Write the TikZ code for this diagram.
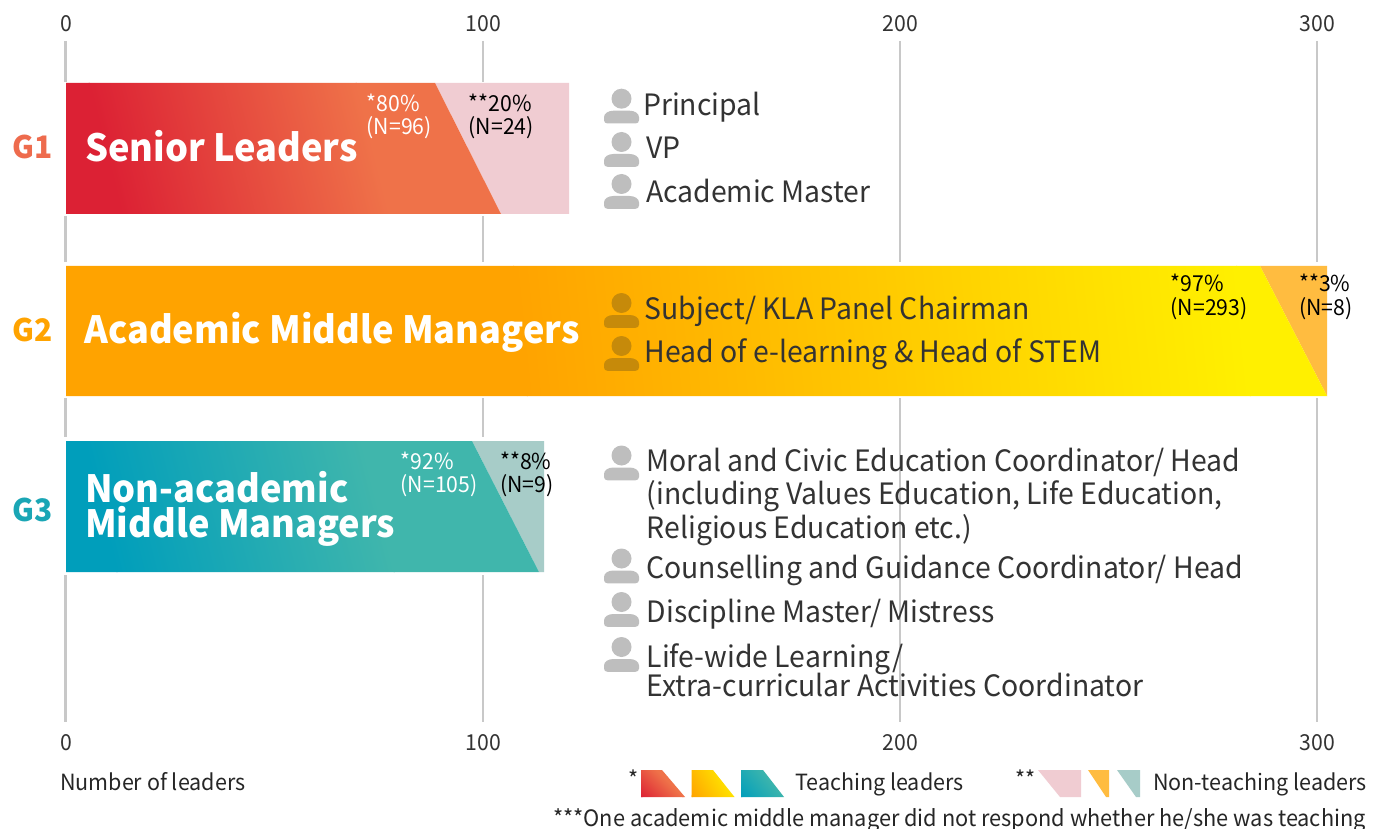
\documentclass[tikz,border=0pt]{standalone}
\usepackage{fontspec}
\setmainfont[FakeStretch=0.965]{Noto Sans CJK SC}
\definecolor{redA}{HTML}{DC2134}
\definecolor{redB}{HTML}{EF7249}
\definecolor{pinkN}{HTML}{F0CCD2}
\definecolor{ambA}{HTML}{FFA300}
\definecolor{ambB}{HTML}{FFF000}
\definecolor{ambN}{HTML}{FFBC40}
\definecolor{tealA}{HTML}{009EBB}
\definecolor{tealB}{HTML}{40B6AC}
\definecolor{tealN}{HTML}{A7CCC8}
\definecolor{gridc}{HTML}{C8C8C8}
\definecolor{iconc}{HTML}{BEBEBE}
\definecolor{icond}{HTML}{C68A0A}
\definecolor{txt}{HTML}{333333}
\definecolor{gOne}{HTML}{EE6B4D}
\definecolor{gThree}{HTML}{1AA6B5}
\newcommand{\fsz}[1]{\fontsize{#1pt}{#1pt}\selectfont}
% #1 polygon path, #2 #3 colours, #4 #5 gradient extent, #6 centre y, #7 angle
\newcommand{\gradpoly}[7]{%
  \begin{scope}
    \clip #1;
    \fill[#2,transform canvas={rotate around={#7:(#4,#6)}}] (#4-900,#6-900) rectangle (#4+1,#6+900);
    \fill[#3,transform canvas={rotate around={#7:(#4,#6)}}] (#5-1,#6-900) rectangle (#5+900,#6+900);
    \shade[left color=#2,right color=#3,transform canvas={rotate around={#7:(#4,#6)}}] (#4,#6-900) rectangle (#5,#6+900);
  \end{scope}}
\tikzset{
  x=1pt,y=-1pt,
  axisline/.style={draw=gridc,line width=1.4pt},
  zeroline/.style={draw=gridc,line width=2.4pt},
  axisnum/.style={font=\fsz{22},text=txt,anchor=base,inner sep=0pt},
  role/.style={font=\fsz{29.4},text=txt,anchor=base west,inner sep=0pt},
  pct/.style={font=\fsz{22},anchor=base west,inner sep=0pt},
  glabel/.style={font=\fsz{31}\bfseries,anchor=base west,inner sep=0pt},
  title/.style={font=\fsz{37.5}\bfseries,text=white,anchor=base west,inner sep=0pt},
  note/.style={font=\fsz{22.3},text=black!85,inner sep=0pt},
  person/.pic={
    \fill[pic actions] (0,0) circle[radius=10];
    \fill[pic actions] (-17.5,18.5) .. controls (-17.5,14.5) and (-13,12) .. (-8,12) -- (8,12) .. controls (13,12) and (17.5,14.5) .. (17.5,18.5) -- (17.5,21.5) .. controls (17.5,23.5) and (16,24.8) .. (14,24.8) -- (-14,24.8) .. controls (-16,24.8) and (-17.5,23.5) .. (-17.5,21.5) -- cycle;
  }
}
\begin{document}
\begin{tikzpicture}
\useasboundingbox (0,0) rectangle (1382,829);
\fill[white] (0,0) rectangle (1382,829);
% axis lines
\draw[zeroline] (65.5,41) -- (65.5,82) (65.5,216) -- (65.5,262) (65.5,398) -- (65.5,437) (65.5,575) -- (65.5,722);
\draw[axisline] (483,41) -- (483,82) (483,216) -- (483,262) (483,398) -- (483,437) (483,575) -- (483,722);
\draw[axisline] (900,41) -- (900,262) (900,398) -- (900,722);
\draw[axisline] (1317,41) -- (1317,262) (1317,398) -- (1317,722);
% axis numbers
\node[axisnum] (t0) at (66,32) {0};
\node[axisnum] (t1) at (483.5,32) {100};
\node[axisnum] (t2) at (900.5,32) {200};
\node[axisnum] (t3) at (1317.5,32) {300};
\node[axisnum] (b0) at (66,750) {0};
\node[axisnum] (b1) at (483.5,750) {100};
\node[axisnum] (b2) at (900.5,750) {200};
\node[axisnum] (b3) at (1317.5,750) {300};
% bars
\fill[pinkN] (435,83) -- (569,83) -- (569,214) -- (501,214) -- cycle;
\gradpoly{(66,83) -- (435,83) -- (501,214) -- (66,214) -- cycle}{redA}{redB}{105}{365}{148}{14}
\fill[ambN] (1260,266) -- (1327,266) -- (1327,396) -- cycle;
\gradpoly{(66,266) -- (1260,266) -- (1327,396) -- (66,396) -- cycle}{ambA}{ambB}{520}{1240}{331}{6}
\fill[tealN] (472,441) -- (544,441) -- (544,572) -- (539,572) -- cycle;
\gradpoly{(66,441) -- (472,441) -- (539,572) -- (66,572) -- cycle}{tealA}{tealB}{100}{370}{506}{14}
% group labels
\node[glabel,text=gOne] (g1) at (12,159) {G1};
\node[glabel,text=ambA] (g2) at (12,341) {G2};
\node[glabel,text=gThree] (g3) at (12,521) {G3};
\node[title] (n1) at (85,162) {Senior Leaders};
\node[title] (n2) at (84,343.5) {Academic Middle Managers};
\node[title] (n3a) at (85,502) {Non-academic};
\node[title] (n3b) at (85,537) {Middle Managers};
% percentages
\node[pct,text=white] (p1a) at (366.5,112) {*80\%};
\node[pct,text=white] (p1b) at (366.5,135) {(N=96)};
\node[pct,text=black] (p2a) at (468.5,112) {**20\%};
\node[pct,text=black] (p2b) at (468.5,135) {(N=24)};
\node[pct,text=black] (p3a) at (1170.5,291) {*97\%};
\node[pct,text=black] (p3b) at (1170.5,315) {(N=293)};
\node[pct,text=black] (p4a) at (1299,291) {**3\%};
\node[pct,text=black] (p4b) at (1299,315) {(N=8)};
\node[pct,text=white] (p5a) at (400.5,469) {*92\%};
\node[pct,text=white] (p5b) at (400.5,492) {(N=105)};
\node[pct,text=black] (p6a) at (500,469) {**8\%};
\node[pct,text=black] (p6b) at (500,492) {(N=9)};
% person icons
\foreach \py in {98.7,142,184,455.5,558.5,602,647} \pic[fill=iconc] at (621.5,\py) {person};
\foreach \py in {303,346} \pic[fill=icond] at (621.5,\py) {person};
% roles
\node[role] (r1) at (643,116) {Principal};
\node[role] (r2) at (646,158.5) {VP};
\node[role] (r3) at (646,202.5) {Academic Master};
\node[role] (r4) at (644.5,319) {Subject/ KLA Panel Chairman};
\node[role] (r5) at (644.5,362) {Head of e-learning \& Head of STEM};
\node[role] (r6) at (646.5,471) {Moral and Civic Education Coordinator/ Head};
\node[role] (r7) at (646.5,504) {(including Values Education, Life Education,};
\node[role] (r8) at (646.5,538) {Religious Education etc.)};
\node[role] (r9) at (646,578) {Counselling and Guidance Coordinator/ Head};
\node[role] (r10) at (646.5,622.5) {Discipline Master/ Mistress};
\node[role] (r11) at (646.5,667) {Life-wide Learning/};
\node[role] (r12) at (646.5,696) {Extra-curricular Activities Coordinator};
% legend
\node[note,anchor=base west] (xl) at (60,790) {Number of leaders};
\node[note,anchor=base west] (s1) at (628,787) {*};
\gradpoly{(641,770) -- (662,770) -- (685,797) -- (641,797) -- cycle}{redA}{redB}{627}{657}{783}{45}
\gradpoly{(691.5,770) -- (713,770) -- (734.5,797) -- (691.5,797) -- cycle}{ambA}{ambB}{683.5}{729}{783}{30}
\gradpoly{(741,770) -- (763,770) -- (784,797) -- (741,797) -- cycle}{tealA}{tealB}{729}{765}{783}{40}
\node[note,anchor=base west] (l1) at (795,790) {Teaching leaders};
\node[note,anchor=base west] (s2) at (1015,787) {**};
\fill[pinkN] (1038,770) -- (1081,770) -- (1081,797) -- (1060,797) -- cycle;
\fill[ambN] (1088,770) -- (1109,770) -- (1109,797) -- (1106,797) -- cycle;
\fill[tealN] (1117,770) -- (1140,770) -- (1140,797) -- (1136,797) -- cycle;
\node[note,anchor=base west] (l2) at (1153,790) {Non-teaching leaders};
\node[note,anchor=base east,font=\fsz{22.55}] (fn) at (1366,826) {***One academic middle manager did not respond whether he/she was teaching};
\end{tikzpicture}
\end{document}
